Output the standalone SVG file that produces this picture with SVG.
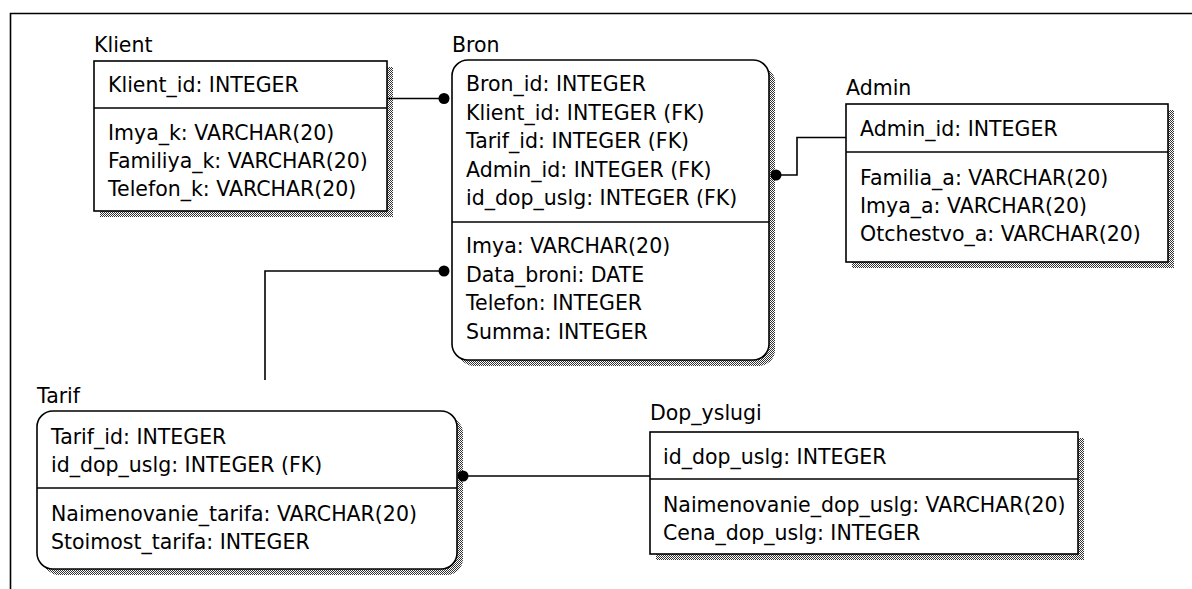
<svg xmlns="http://www.w3.org/2000/svg" width="1192" height="589" viewBox="0 0 1192 589">
<defs>
<pattern id="dither" width="2" height="2" patternUnits="userSpaceOnUse">
<rect width="2" height="2" fill="#ffffff"/>
<rect x="0" y="0" width="1" height="1" fill="#333333"/>
<rect x="1" y="1" width="1" height="1" fill="#333333"/>
</pattern>
</defs>
<style>
text{font-family:"DejaVu Sans",Verdana,sans-serif;font-size:20.5px;fill:#000;letter-spacing:0px}
.box{fill:#fff;stroke:#000;stroke-width:1.6}
.shadow{fill:url(#dither);stroke:none}
.div{stroke:#000;stroke-width:1.6}
.conn{fill:none;stroke:#000;stroke-width:1.6}
.dot{fill:#000}
</style>
<rect width="1192" height="589" fill="#fff"/>
<path d="M10.5 589 V13.5 H1192" fill="none" stroke="#000" stroke-width="1.6"/>

<g id="Klient">
<text x="94" y="52">Klient</text>
<rect class="shadow" x="100" y="67" width="293" height="150"/>
<rect class="box" x="94" y="61" width="293" height="150"/>
<line class="div" x1="94" y1="108" x2="387" y2="108"/>
<text x="108" y="92">Klient_id: INTEGER</text>
<text x="108" y="140">Imya_k: VARCHAR(20)</text>
<text x="108" y="168">Familiya_k: VARCHAR(20)</text>
<text x="108" y="196">Telefon_k: VARCHAR(20)</text>
</g>

<g id="Bron">
<text x="452" y="52">Bron</text>
<rect class="shadow" x="458" y="66" width="317" height="300" rx="16"/>
<rect class="box" x="452" y="60" width="317" height="300" rx="16"/>
<line class="div" x1="452" y1="222" x2="769" y2="222"/>
<text x="466" y="91">Bron_id: INTEGER</text>
<text x="466" y="119.5">Klient_id: INTEGER (FK)</text>
<text x="466" y="148">Tarif_id: INTEGER (FK)</text>
<text x="466" y="176.5">Admin_id: INTEGER (FK)</text>
<text x="466" y="205">id_dop_uslg: INTEGER (FK)</text>
<text x="466" y="253">Imya: VARCHAR(20)</text>
<text x="466" y="281.5">Data_broni: DATE</text>
<text x="466" y="310">Telefon: INTEGER</text>
<text x="466" y="338.5">Summa: INTEGER</text>
</g>

<g id="Admin">
<text x="846" y="95">Admin</text>
<rect class="shadow" x="852" y="110" width="322" height="158"/>
<rect class="box" x="846" y="104" width="322" height="158"/>
<line class="div" x1="846" y1="152" x2="1168" y2="152"/>
<text x="860" y="136">Admin_id: INTEGER</text>
<text x="860" y="185">Familia_a: VARCHAR(20)</text>
<text x="860" y="213">Imya_a: VARCHAR(20)</text>
<text x="860" y="241">Otchestvo_a: VARCHAR(20)</text>
</g>

<g id="Tarif">
<text x="37" y="403">Tarif</text>
<rect class="shadow" x="43" y="417" width="420" height="158" rx="16"/>
<rect class="box" x="37" y="411" width="420" height="158" rx="16"/>
<line class="div" x1="37" y1="488" x2="457" y2="488"/>
<text x="51" y="444">Tarif_id: INTEGER</text>
<text x="51" y="472">id_dop_uslg: INTEGER (FK)</text>
<text x="51" y="521">Naimenovanie_tarifa: VARCHAR(20)</text>
<text x="51" y="549">Stoimost_tarifa: INTEGER</text>
</g>

<g id="Dop_yslugi">
<text x="650" y="420">Dop_yslugi</text>
<rect class="shadow" x="656" y="438" width="428" height="122"/>
<rect class="box" x="650" y="432" width="428" height="122"/>
<line class="div" x1="650" y1="479" x2="1078" y2="479"/>
<text x="663" y="464">id_dop_uslg: INTEGER</text>
<text x="663" y="512">Naimenovanie_dop_uslg: VARCHAR(20)</text>
<text x="663" y="540">Cena_dop_uslg: INTEGER</text>
</g>

<g id="connectors">
<path class="conn" d="M387 98.5 H444"/>
<circle class="dot" cx="444" cy="98.5" r="5.5"/>
<path class="conn" d="M265 380 V271 H444"/>
<circle class="dot" cx="444" cy="271" r="5.5"/>
<path class="conn" d="M846 137.5 H797 V175 H776"/>
<circle class="dot" cx="776" cy="175" r="5.5"/>
<path class="conn" d="M650 476 H463"/>
<circle class="dot" cx="463" cy="476" r="5.5"/>
</g>
</svg>
